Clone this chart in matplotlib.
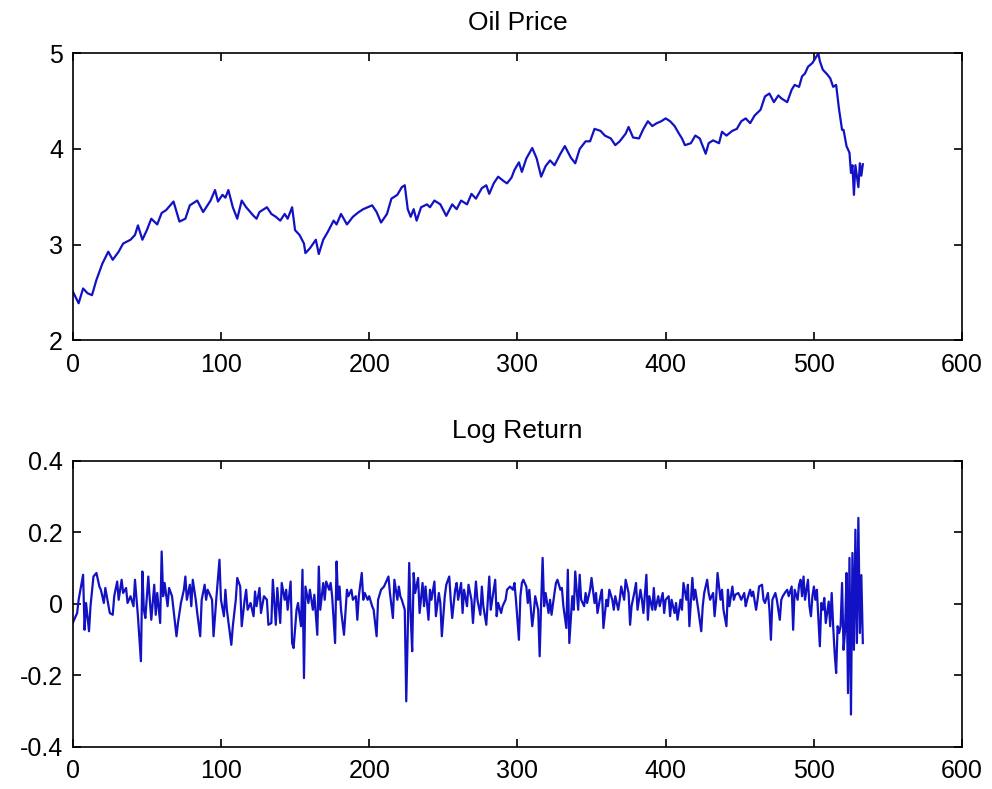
import matplotlib
matplotlib.use('Agg')
import matplotlib.pyplot as plt

# log oil price (index, value)
price_idx = [0, 4, 7, 10, 13, 16, 20, 24, 27, 31, 34, 39, 42, 44, 47, 50, 53, 57, 60, 63,
             68, 72, 76, 79, 84, 88, 93, 96, 98, 101, 103, 105, 108, 111, 114, 117, 122, 124, 126, 131,
             134, 137, 140, 143, 145, 148, 150, 153, 156, 157, 160, 164, 166, 169, 172, 176, 178, 181, 185, 189,
             193, 196, 202, 205, 208, 212, 215, 219, 222, 224, 226, 228, 230, 232, 235, 239, 241, 244, 248, 252,
             256, 259, 262, 266, 269, 272, 276, 279, 281, 284, 287, 291, 293, 296, 298, 301, 303, 306, 310, 313,
             316, 319, 322, 325, 329, 332, 336, 339, 342, 346, 349, 352, 356, 359, 363, 366, 369, 373, 375, 378,
             382, 385, 388, 391, 394, 397, 400, 403, 406, 409, 411, 413, 417, 420, 423, 427, 429, 432, 436, 438,
             441, 445, 448, 451, 454, 457, 460, 464, 467, 470, 473, 476, 478, 482, 485, 487, 490, 492, 494, 496,
             499, 501, 503, 504, 506, 509, 511, 513, 515, 517, 519, 520, 522, 524, 525, 526, 527, 528, 530, 531,
             532, 533]
price_val = [2.51, 2.385, 2.54, 2.49, 2.47, 2.63, 2.80, 2.925, 2.84, 2.925, 3.01, 3.05, 3.10, 3.20, 3.05, 3.15, 3.27, 3.21, 3.33, 3.36,
             3.45, 3.24, 3.27, 3.41, 3.46, 3.34, 3.46, 3.57, 3.45, 3.52, 3.49, 3.57, 3.39, 3.27, 3.46, 3.39, 3.30, 3.27, 3.34, 3.39,
             3.32, 3.29, 3.25, 3.32, 3.27, 3.39, 3.15, 3.10, 3.01, 2.91, 2.96, 3.05, 2.90, 3.05, 3.13, 3.25, 3.21, 3.32, 3.21, 3.29,
             3.34, 3.37, 3.41, 3.34, 3.23, 3.32, 3.48, 3.52, 3.60, 3.62, 3.37, 3.29, 3.37, 3.25, 3.39, 3.42, 3.39, 3.46, 3.42, 3.30,
             3.42, 3.37, 3.46, 3.42, 3.53, 3.48, 3.59, 3.62, 3.53, 3.64, 3.71, 3.66, 3.64, 3.70, 3.78, 3.86, 3.76, 3.90, 4.01, 3.90,
             3.71, 3.82, 3.88, 3.83, 3.95, 4.03, 3.91, 3.85, 4.00, 4.08, 4.08, 4.21, 4.19, 4.14, 4.11, 4.04, 4.08, 4.16, 4.23, 4.12,
             4.11, 4.21, 4.29, 4.24, 4.27, 4.29, 4.32, 4.29, 4.24, 4.16, 4.11, 4.04, 4.06, 4.14, 4.11, 3.95, 4.06, 4.09, 4.06, 4.18,
             4.14, 4.19, 4.21, 4.29, 4.32, 4.27, 4.35, 4.41, 4.55, 4.58, 4.49, 4.56, 4.53, 4.49, 4.62, 4.67, 4.65, 4.76, 4.79, 4.86,
             4.90, 4.95, 5.00, 4.92, 4.83, 4.78, 4.74, 4.65, 4.67, 4.41, 4.20, 4.20, 4.03, 3.96, 3.75, 3.83, 3.52, 3.83, 3.60, 3.85,
             3.72, 3.84]

# log returns (index, value)
ret_idx = [0, 3, 4, 7, 8, 9, 11, 12, 14, 16, 18, 19, 21, 22, 23, 25, 27, 28, 30, 31,
           33, 34, 36, 37, 39, 41, 42, 44, 46, 47, 48, 49, 51, 52, 53, 55, 56, 57, 59, 60,
           61, 62, 64, 65, 67, 68, 70, 71, 73, 75, 76, 77, 79, 80, 81, 83, 84, 86, 87, 89,
           90, 91, 93, 94, 95, 97, 99, 100, 102, 103, 104, 106, 107, 108, 110, 111, 113, 114, 116, 117,
           118, 120, 122, 123, 124, 126, 127, 129, 131, 132, 134, 135, 137, 138, 140, 141, 143, 144, 145, 147,
           148, 149, 151, 152, 154, 155, 156, 157, 159, 160, 162, 163, 165, 166, 167, 169, 170, 171, 173, 174,
           175, 177, 178, 179, 180, 181, 183, 185, 186, 188, 189, 191, 192, 193, 195, 196, 197, 199, 200, 202,
           203, 205, 206, 208, 210, 212, 213, 214, 216, 217, 219, 220, 221, 222, 224, 225, 227, 228, 229, 230,
           231, 233, 234, 236, 237, 238, 240, 241, 242, 244, 245, 247, 248, 249, 251, 252, 254, 255, 256, 258,
           259, 260, 262, 263, 264, 266, 267, 269, 270, 272, 273, 275, 276, 277, 279, 281, 282, 283, 285, 286,
           287, 289, 290, 292, 293, 295, 297, 298, 299, 301, 302, 303, 304, 306, 307, 308, 310, 311, 312, 314,
           315, 316, 317, 318, 319, 321, 322, 323, 325, 326, 327, 329, 330, 331, 333, 334, 335, 337, 338, 339,
           341, 342, 343, 345, 346, 347, 349, 350, 352, 353, 354, 356, 357, 358, 360, 361, 362, 364, 365, 366,
           368, 369, 370, 372, 373, 375, 376, 377, 379, 380, 381, 383, 384, 385, 387, 388, 389, 391, 392, 393,
           395, 396, 398, 399, 400, 402, 403, 404, 406, 407, 408, 410, 411, 412, 414, 415, 416, 418, 419, 420,
           422, 424, 425, 426, 428, 429, 430, 432, 433, 434, 435, 437, 438, 439, 441, 442, 443, 445, 446, 447,
           449, 450, 451, 453, 454, 455, 457, 458, 459, 461, 462, 463, 465, 466, 467, 469, 470, 471, 472, 474,
           475, 477, 478, 479, 481, 482, 483, 485, 486, 487, 489, 490, 491, 492, 493, 494, 495, 496, 497, 498,
           499, 500, 501, 502, 504, 505, 506, 507, 508, 510, 511, 512, 513, 514, 515, 516, 517, 518, 519, 520,
           521, 522, 523, 524, 525, 526, 527, 528, 529, 530, 531, 532, 533]
ret_val = [-0.054, -0.026, 0.011, 0.081, -0.073, 0.002, -0.077, -0.007, 0.076, 0.086, 0.048, 0.039, 0.002, 0.044, 0.021, -0.026, -0.031, 0.021, 0.062, 0.011,
           0.067, 0.030, 0.044, 0.002, 0.021, -0.007, 0.067, -0.035, -0.161, 0.090, -0.017, -0.040, 0.076, 0.011, -0.045, 0.053, -0.031, 0.030, -0.054, 0.146,
           0.021, 0.058, -0.007, 0.044, 0.021, -0.017, -0.091, -0.054, 0.002, 0.039, 0.076, 0.011, 0.053, -0.007, 0.067, 0.011, -0.026, -0.091, 0.011, 0.053,
           0.011, 0.039, 0.021, 0.011, -0.091, 0.021, 0.123, 0.011, -0.035, 0.039, -0.017, -0.082, -0.115, -0.063, 0.011, 0.072, 0.048, -0.063, 0.011, 0.039,
           -0.017, 0.002, -0.035, 0.034, -0.007, 0.044, -0.026, 0.021, 0.011, -0.059, -0.054, 0.067, -0.059, 0.044, -0.054, 0.058, 0.011, 0.039, -0.017, 0.062,
           -0.110, -0.124, -0.017, 0.002, -0.063, 0.095, -0.208, 0.048, 0.002, 0.039, -0.017, 0.025, -0.087, 0.104, -0.017, 0.058, 0.011, 0.062, 0.039, 0.058,
           0.021, -0.110, 0.118, 0.011, 0.048, -0.017, -0.087, 0.039, 0.021, 0.039, 0.011, 0.021, -0.045, 0.021, 0.086, 0.011, 0.030, 0.011, 0.021, -0.007,
           -0.017, -0.091, 0.011, 0.039, 0.048, 0.067, 0.076, 0.030, -0.040, 0.067, 0.011, 0.048, 0.021, 0.011, -0.017, -0.273, 0.114, -0.035, -0.133, 0.086,
           0.030, 0.072, -0.026, 0.058, -0.007, 0.048, -0.045, 0.039, 0.011, 0.062, -0.035, 0.030, 0.002, -0.091, 0.021, 0.053, 0.076, 0.011, -0.040, 0.039,
           0.058, 0.011, 0.058, -0.026, 0.039, -0.007, 0.053, 0.011, -0.054, 0.062, 0.011, -0.031, 0.048, -0.007, -0.059, 0.076, -0.017, 0.011, 0.067, -0.035,
           0.002, -0.026, -0.007, 0.011, 0.039, 0.048, 0.039, 0.058, 0.011, -0.101, 0.021, 0.058, 0.067, 0.048, 0.002, 0.039, -0.063, -0.026, 0.021, -0.017,
           -0.147, 0.002, 0.128, -0.007, 0.030, -0.026, 0.011, -0.031, 0.030, 0.058, 0.067, 0.039, 0.044, -0.007, -0.068, 0.095, -0.110, 0.021, -0.017, 0.090,
           -0.017, 0.081, 0.011, -0.007, 0.030, 0.002, 0.039, 0.072, 0.002, 0.030, -0.026, 0.021, 0.039, -0.068, 0.011, -0.007, 0.039, 0.011, -0.017, 0.021,
           -0.017, 0.011, 0.048, 0.011, 0.067, 0.030, -0.059, -0.007, 0.034, 0.058, -0.017, 0.039, 0.011, -0.026, 0.081, -0.045, 0.021, -0.017, 0.044, -0.017,
           0.021, -0.007, 0.030, -0.026, 0.011, 0.021, -0.035, 0.011, -0.026, 0.002, -0.045, 0.011, -0.017, 0.058, 0.011, 0.053, -0.063, 0.072, 0.011, 0.039,
           -0.017, -0.077, -0.007, 0.030, 0.067, 0.030, 0.011, 0.030, -0.035, 0.011, 0.086, 0.011, 0.039, -0.017, -0.063, 0.039, -0.007, 0.048, 0.011, 0.025,
           0.030, 0.021, 0.011, 0.030, -0.007, 0.011, 0.039, 0.021, 0.034, -0.017, 0.011, 0.048, 0.053, 0.011, 0.002, 0.030, -0.017, -0.101, 0.011, 0.030,
           0.011, -0.045, 0.011, 0.021, 0.034, 0.039, 0.021, 0.048, -0.073, 0.039, 0.011, 0.053, 0.067, 0.021, 0.076, 0.011, 0.039, 0.067, -0.007, -0.035,
           0.021, 0.048, 0.011, 0.039, -0.119, 0.002, -0.017, 0.016, -0.054, 0.006, -0.063, 0.030, -0.063, -0.138, -0.194, -0.063, -0.082, -0.063, 0.058, -0.129,
           -0.077, 0.086, -0.250, 0.128, -0.310, 0.142, -0.129, 0.207, -0.110, 0.240, -0.082, 0.080, -0.110]

line_color = '#1212c4'

plt.rcParams['font.family'] = ['Liberation Sans', 'DejaVu Sans']

fig = plt.figure(figsize=(9.92, 7.89), dpi=100)
ax1 = fig.add_axes([0.0733, 0.569, 0.8966, 0.3633])
ax2 = fig.add_axes([0.0733, 0.0536, 0.8966, 0.3625])

ax1.plot(price_idx, price_val, color=line_color, linewidth=1.6)
ax1.set_xlim(0, 600)
ax1.set_ylim(2, 5)
ax1.set_yticks([2, 3, 4, 5])
ax1.set_title('Oil Price', fontsize=19, pad=17)

ax2.plot(ret_idx, ret_val, color=line_color, linewidth=1.6)
ax2.set_xlim(0, 600)
ax2.set_ylim(-0.4, 0.4)
ax2.set_yticks([-0.4, -0.2, 0, 0.2, 0.4])
ax2.set_yticklabels(['-0.4', '-0.2', '0', '0.2', '0.4'])
ax2.set_title('Log Return', fontsize=19, pad=16)

for ax in (ax1, ax2):
    ax.set_xticks([0, 100, 200, 300, 400, 500, 600])
    ax.tick_params(direction='in', top=True, right=True, length=6, width=1.2,
                   labelsize=18)
    ax.tick_params(axis='x', pad=9)
    ax.tick_params(axis='y', pad=7)
    for s in ax.spines.values():
        s.set_linewidth(1.2)

fig.savefig('out.png', dpi=100)
plt.close(fig)
